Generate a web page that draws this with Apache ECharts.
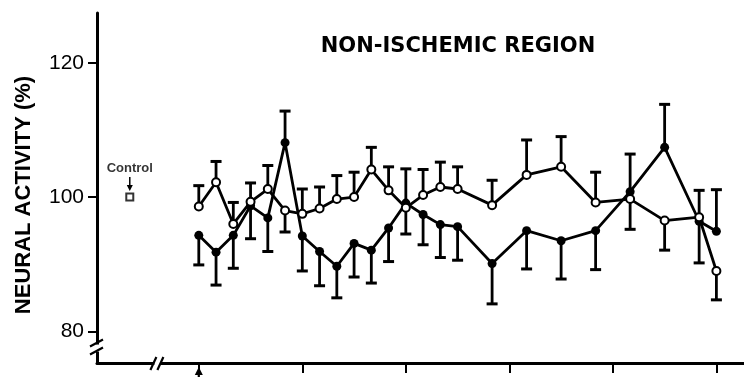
<!DOCTYPE html>
<html>
<head>
<meta charset="utf-8">
<script src="https://cdn.jsdelivr.net/npm/echarts@6/dist/echarts.min.js"></script>
<style>
html, body { margin: 0; padding: 0; background: #fff; }
#main { width: 744px; height: 377px; }
</style>
</head>
<body>
<div id="main"></div>
<script>
// minutes after injection (arrow at 0)
var times = [0, 5, 10, 15, 20, 25, 30, 35, 40, 45, 50, 55, 60, 65, 70, 75, 85, 95, 105, 115, 125, 135, 145, 150];
// open circles
var openMean = [98.6, 102.2, 96.0, 99.3, 101.2, 98.0, 97.5, 98.3, 99.7, 100.0, 104.1, 101.0, 98.4, 100.3, 101.5, 101.2, 98.8, 103.3, 104.5, 99.2, 99.7, 96.5, 97.0, 89.0];
// SEM, sign gives the side the bar is drawn on (+ up, - down)
var openErr = [3.1, 3.1, 3.2, 2.8, 3.5, -3.2, 3.7, 3.2, 3.5, 3.7, 3.3, 3.5, 5.8, 3.8, 3.7, 3.3, 3.7, 5.2, 4.5, 4.5, 6.7, -4.4, 4.0, -4.3];
// filled circles
var fillMean = [94.3, 91.8, 94.3, 98.7, 96.9, 108.1, 94.2, 91.9, 89.7, 93.1, 92.1, 95.4, 99.1, 97.4, 95.9, 95.6, 90.1, 95.0, 93.5, 95.0, 100.8, 107.4, 96.4, 94.9];
var fillErr = [-4.4, -4.9, -4.9, -4.9, -5.0, 4.7, -5.2, -5.1, -4.7, -5.0, -4.9, -5.0, -4.6, -4.5, -4.9, -5.0, -6.0, -5.7, -5.7, -5.8, -5.6, 6.4, -6.2, 6.2];
var control = [-20, 100];
var yTicks = [80, 100, 120];
var xTicks = [0, 30, 60, 90, 120, 150];
// where the axis breaks are drawn
var yBreakAt = 77.6;
var xBreakAt = -12;

var FONT = 'Liberation Sans';

function pairs(xs, ys, es) {
	var out = [];
	for (var i = 0; i < xs.length; i++) {
		out.push(es ? [xs[i], ys[i], es[i]] : [xs[i], ys[i]]);
	}
	return out;
}

function errRender(params, api) {
	var t = api.value(0), m = api.value(1), e = api.value(2);
	var p0 = api.coord([t, m]);
	var p1 = api.coord([t, m + e]);
	var w = 5.5;
	return {
		type : 'group',
		children : [ {
			type : 'line',
			shape : { x1 : p0[0], y1 : p0[1], x2 : p1[0], y2 : p1[1] },
			style : { stroke : '#000', lineWidth : 2.8 }
		}, {
			type : 'line',
			shape : { x1 : p1[0] - w, y1 : p1[1], x2 : p1[0] + w, y2 : p1[1] },
			style : { stroke : '#000', lineWidth : 3 }
		} ]
	};
}

// axis breaks, control arrow and injection arrow
function decoRender(params, api) {
	var kind = api.value(0);
	var p = api.coord([api.value(1), api.value(2)]);
	var x = p[0], y = p[1];
	var st = { stroke : '#000', lineWidth : 2.2 };
	if (kind === 0) { // y axis break
		return { type : 'group', children : [
			{ type : 'rect', shape : { x : x - 4, y : y - 3, width : 8, height : 7 }, style : { fill : '#fff' } },
			{ type : 'line', shape : { x1 : x - 7, y1 : y - 1, x2 : x + 6, y2 : y - 8 }, style : st },
			{ type : 'line', shape : { x1 : x - 7, y1 : y + 7, x2 : x + 6, y2 : y } , style : st }
		] };
	}
	if (kind === 1) { // x axis break
		return { type : 'group', children : [
			{ type : 'rect', shape : { x : x - 3, y : y - 4, width : 6, height : 8 }, style : { fill : '#fff' } },
			{ type : 'line', shape : { x1 : x - 7, y1 : y + 7, x2 : x - 1, y2 : y - 6 }, style : st },
			{ type : 'line', shape : { x1 : x, y1 : y + 7, x2 : x + 6, y2 : y - 6 }, style : st }
		] };
	}
	if (kind === 2) { // arrow above control point
		return { type : 'group', children : [
			{ type : 'line', shape : { x1 : x, y1 : y - 20, x2 : x, y2 : y - 10 }, style : { stroke : '#000', lineWidth : 1.5 } },
			{ type : 'polygon', shape : { points : [ [ x - 3, y - 12 ], [ x + 3, y - 12 ], [ x, y - 6 ] ] }, style : { fill : '#000' } }
		] };
	}
	// injection arrow below x axis
	return { type : 'group', children : [
		{ type : 'polygon', shape : { points : [ [ x - 4, y + 12 ], [ x + 4, y + 12 ], [ x, y + 4 ] ] }, style : { fill : '#000' } },
		{ type : 'line', shape : { x1 : x, y1 : y + 11, x2 : x, y2 : y + 16 }, style : { stroke : '#000', lineWidth : 2.2 } }
	] };
}

var Y_MIN = 75.3, Y_MAX = 127.4, X_MIN = -29.5, X_MAX = 158;

var myChart = echarts.init(document.getElementById('main'), null, { renderer : 'canvas' });

var option = {
	animation : false,
	backgroundColor : '#fff',
	title : {
		text : 'NON-ISCHEMIC REGION',
		left : 453,
		top : 31,
		textAlign : 'center',
		textStyle : { fontFamily : 'DejaVu Sans', fontWeight : 'bold', fontSize : 21, color : '#000' }
	},
	grid : { left : 97, right : 0, top : 13, bottom : 14 },
	xAxis : {
		type : 'value',
		min : X_MIN,
		max : X_MAX,
		axisLine : { onZero : false, lineStyle : { color : '#000', width : 3 } },
		axisTick : { customValues : xTicks, length : 10, lineStyle : { color : '#000', width : 2 } },
		axisLabel : { show : false },
		splitLine : { show : false }
	},
	yAxis : {
		type : 'value',
		min : Y_MIN,
		max : Y_MAX,
		name : 'NEURAL ACTIVITY (%)',
		nameLocation : 'middle',
		nameGap : 62,
		nameTextStyle : { fontFamily : FONT, fontWeight : 'bold', fontSize : 22, color : '#000', padding : [ 0, 14, 0, 0 ] },
		axisLine : { onZero : false, lineStyle : { color : '#000', width : 3 } },
		axisTick : { customValues : yTicks, length : 9, lineStyle : { color : '#000', width : 2 } },
		axisLabel : { customValues : yTicks, fontFamily : FONT, fontSize : 21, color : '#000', margin : 13 },
		splitLine : { show : false }
	},
	series : [ {
		name : 'open err',
		type : 'custom',
		renderItem : errRender,
		data : pairs(times, openMean, openErr),
		z : 1,
		clip : false
	}, {
		name : 'filled err',
		type : 'custom',
		renderItem : errRender,
		data : pairs(times, fillMean, fillErr),
		z : 1,
		clip : false
	}, {
		name : 'filled',
		type : 'line',
		data : pairs(times, fillMean),
		symbol : 'circle',
		symbolSize : 9,
		itemStyle : { color : '#000' },
		lineStyle : { color : '#000', width : 2.8 },
		z : 3
	}, {
		name : 'open',
		type : 'line',
		data : pairs(times, openMean),
		symbol : 'circle',
		symbolSize : 8,
		itemStyle : { color : '#fff', borderColor : '#000', borderWidth : 2 },
		lineStyle : { color : '#000', width : 2.8 },
		z : 4
	}, {
		name : 'control',
		type : 'scatter',
		data : [ control ],
		symbol : 'rect',
		symbolSize : [ 7, 7 ],
		itemStyle : { color : '#fff', borderColor : '#000', borderWidth : 2 },
		label : {
			show : true,
			position : 'top',
			distance : 18,
			formatter : 'Control',
			fontFamily : FONT,
			fontWeight : 'bold',
			fontSize : 13,
			color : '#000'
		},
		z : 4
	}, {
		name : 'deco',
		type : 'custom',
		renderItem : decoRender,
		data : [ [ 0, X_MIN, yBreakAt ], [ 1, xBreakAt, Y_MIN ], [ 2, control[0], control[1] ], [ 3, 0, Y_MIN ] ],
		z : 5,
		clip : false,
		silent : true
	} ]
};

myChart.setOption(option);
</script>
</body>
</html>
